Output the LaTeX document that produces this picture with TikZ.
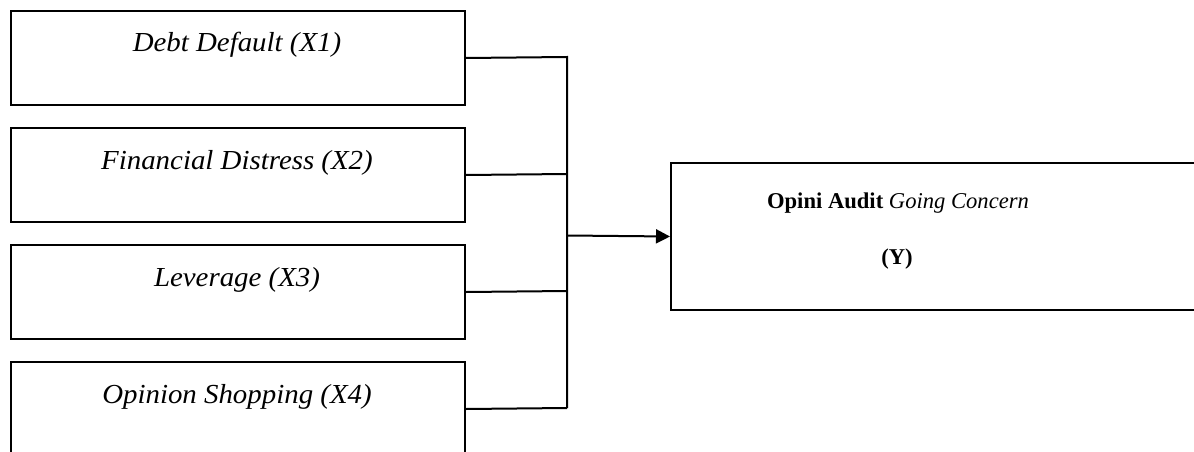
\documentclass[tikz,border=0pt]{standalone}
\usepackage{fontspec}
\setmainfont{Liberation Serif}
\newfontfamily\lfont{Liberation Serif}[FakeStretch=1.05]
\usetikzlibrary{arrows.meta}
\begin{document}
\begin{tikzpicture}[x=1pt,y=-1pt,
  box/.style={draw, line width=2pt, minimum width=454pt, minimum height=94pt, anchor=north west, inner sep=0pt},
  bigbox/.style={draw, line width=2pt, minimum width=560pt, minimum height=147pt, anchor=north west, inner sep=0pt},
  lbl/.style={font=\lfont\fontsize{27.5}{32}\selectfont\itshape, inner sep=0pt, anchor=base},
  rlbl/.style={font=\fontsize{22.6}{27}\selectfont, inner sep=0pt, anchor=base},
  conn/.style={line width=2pt},
  arr/.style={line width=2pt, -{Triangle[length=14pt,width=14pt]}}]
\useasboundingbox (0,0) rectangle (1194,452);
\clip (0,0) rectangle (1194,452);
\node[box] (b1) at (10,10) {};
\node[box] (b2) at (10,127) {};
\node[box] (b3) at (10,244) {};
\node[box] (b4) at (10,361) {};
\node[bigbox] (y) at (670,162) {};
\node[lbl] (t1) at (237,52) {Debt Default (X1)};
\node[lbl] (t2) at (237,169) {Financial Distress (X2)};
\node[lbl] (t3) at (237,286) {Leverage (X3)};
\node[lbl] (t4) at (237,403) {Opinion Shopping (X4)};
\node[rlbl] (ty1) at (898,208) {\textbf{Opini Audit} \textit{Going Concern}};
\node[rlbl] (ty2) at (897,264) {\textbf{(Y)}};
\coordinate (j1) at (567,57);
\coordinate (j4) at (567,408);
\coordinate (jm) at (567,235.5);
\draw[conn] (b1.east) -- (j1) -- (j4);
\draw[conn] (b2.east) -- (567,174);
\draw[conn] (b3.east) -- (567,291);
\draw[conn] (b4.east) -- (j4);
\draw[arr] (jm) -- (y.west);
\end{tikzpicture}
\end{document}
